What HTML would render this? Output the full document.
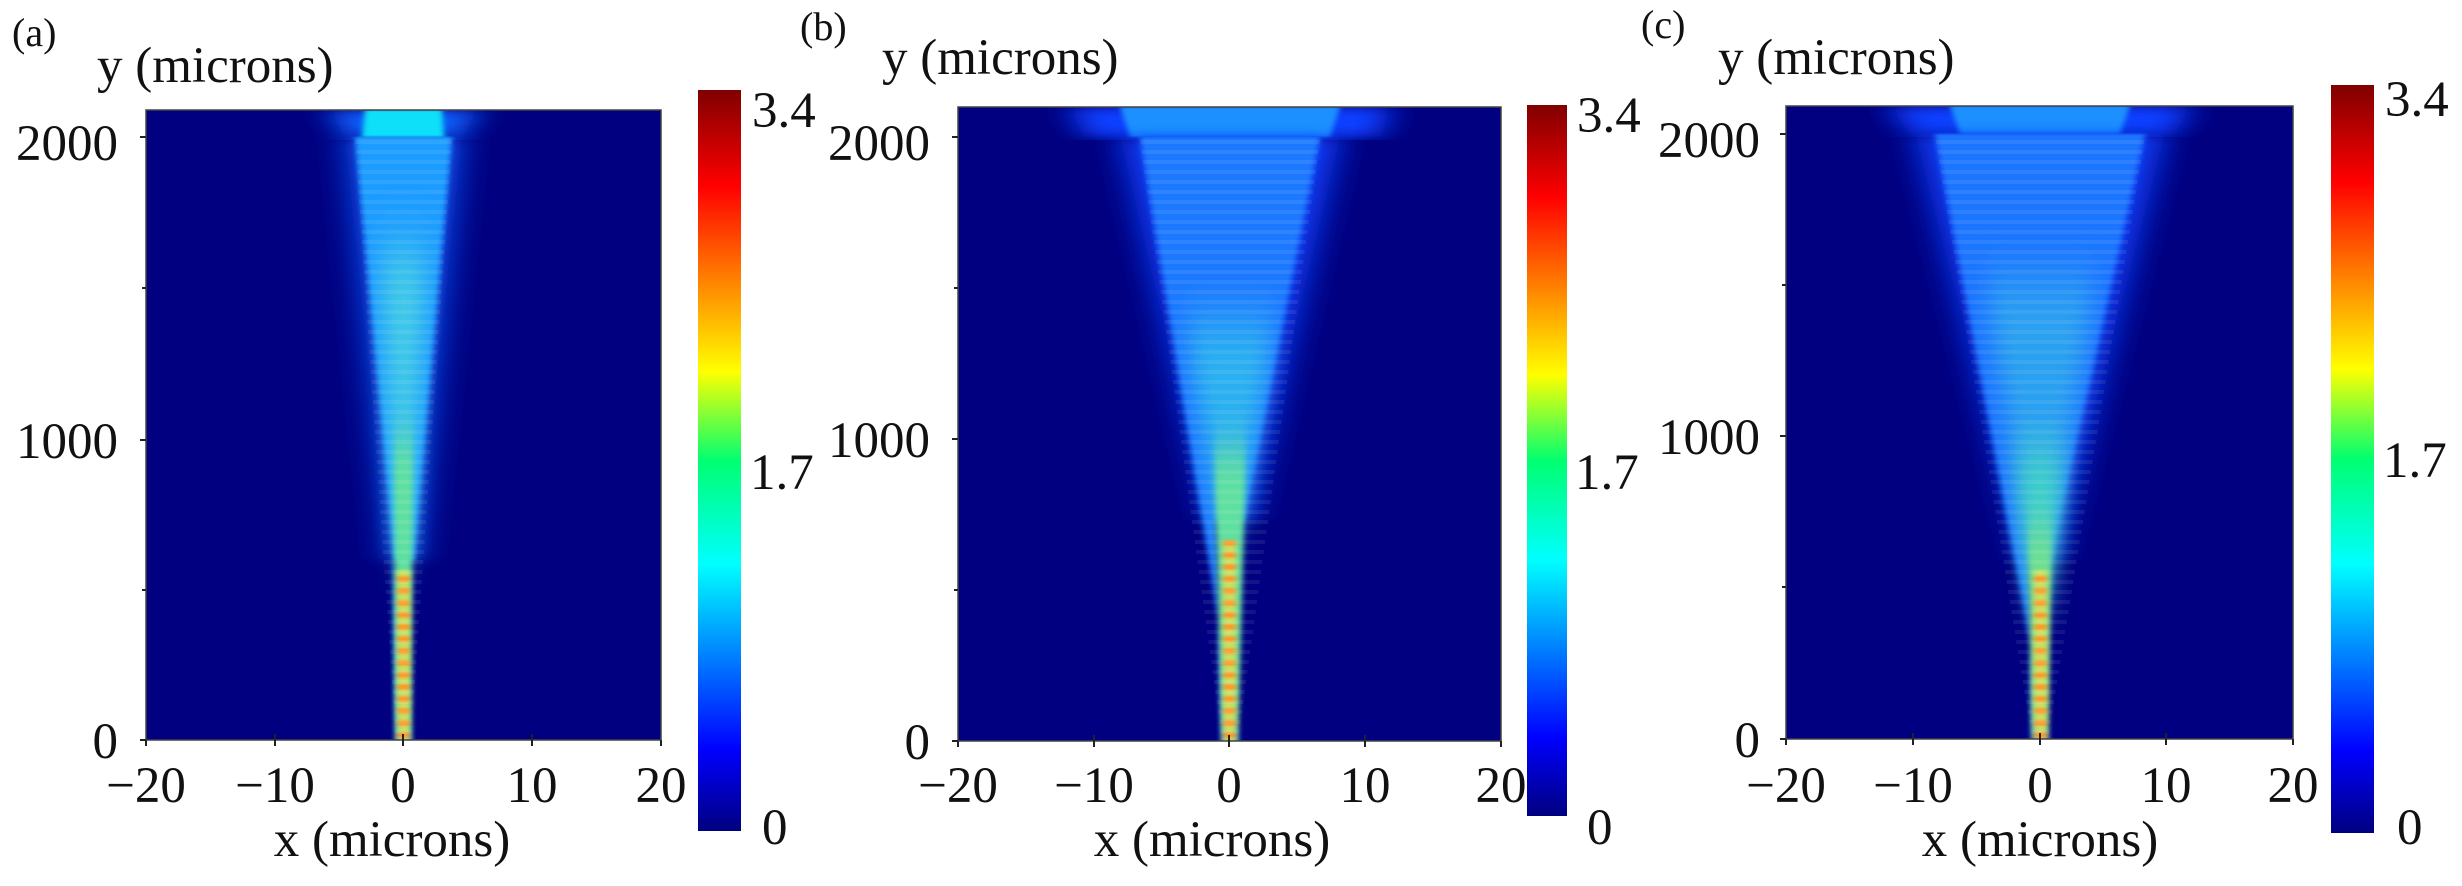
<!DOCTYPE html>
<html><head><meta charset="utf-8"><style>
html,body{margin:0;padding:0;background:#fff}
svg{display:block}
</style></head><body>
<svg width="2462" height="886" viewBox="0 0 2462 886" xmlns="http://www.w3.org/2000/svg" font-family="'Liberation Serif', 'DejaVu Serif', serif">
<defs>
<linearGradient id="jet" x1="0" y1="1" x2="0" y2="0">
<stop offset="0" stop-color="#000080"/>
<stop offset="0.11" stop-color="#0000ff"/>
<stop offset="0.36" stop-color="#00ffff"/>
<stop offset="0.5" stop-color="#00ff70"/>
<stop offset="0.62" stop-color="#ffff00"/>
<stop offset="0.87" stop-color="#ff0000"/>
<stop offset="1" stop-color="#800000"/>
</linearGradient>
<filter id="b1" x="-50%" y="-10%" width="200%" height="120%"><feGaussianBlur stdDeviation="16 6"/></filter>
<filter id="b2" x="-50%" y="-20%" width="200%" height="140%"><feGaussianBlur stdDeviation="10 25"/></filter>
<filter id="b3" x="-50%" y="-10%" width="200%" height="120%"><feGaussianBlur stdDeviation="3 1"/></filter>
<filter id="b4" x="-50%" y="-20%" width="200%" height="140%"><feGaussianBlur stdDeviation="3 20"/></filter>
<pattern id="stripe" width="10" height="10" patternUnits="userSpaceOnUse"><rect width="10" height="4" fill="#ffffff" opacity="0.08"/></pattern>
<pattern id="dots" width="10" height="12" patternUnits="userSpaceOnUse"><rect width="10" height="6" fill="#ff9a20"/><rect y="6" width="10" height="6" fill="#c8e060"/></pattern>
<clipPath id="ca"><rect x="146" y="110" width="515" height="630"/></clipPath>
<clipPath id="cb"><rect x="958" y="107" width="543" height="634"/></clipPath>
<clipPath id="cc"><rect x="1786" y="106" width="507" height="633"/></clipPath>
</defs>
<g fill="#111">
<!-- Panel A -->
<rect x="146" y="110" width="515" height="630" fill="#000080"/>
<g clip-path="url(#ca)">
<polygon points="330,110 478,110 462,137 345,137" fill="#1060ff" filter="url(#b1)"/>
<polygon points="345,137 462,137 418,560 389,560" fill="#0a50f0" filter="url(#b1)"/>
<polygon points="365,110 442,110 444,137 362,137" fill="#10e0f8" filter="url(#b3)"/>
<polygon points="355,137 452,137 414,560 393,560 396,740 411,740" fill="#1f9cff" filter="url(#b3)"/>
<polygon points="380,250 427,250 410,560 397,560" fill="#40c8e8" filter="url(#b2)"/>
<polygon points="394,440 413,440 411,740 396,740" fill="#5ee0a0" filter="url(#b4)"/>
<rect x="397" y="570" width="13" height="170" fill="url(#dots)" filter="url(#b3)"/>
<polygon points="355,140 452,140 411,740 396,740" fill="url(#stripe)"/>
</g>
<rect x="146" y="110" width="515" height="630" fill="none" stroke="#444" stroke-width="1.5"/>

<!-- Panel B -->
<rect x="958" y="107" width="543" height="634" fill="#000080"/>
<g clip-path="url(#cb)">
<polygon points="1070,107 1390,107 1380,137 1085,137" fill="#0c40ff" filter="url(#b1)"/>
<polygon points="1120,107 1340,107 1330,137 1130,137" fill="#1a90ff" filter="url(#b3)"/>
<polygon points="1120,137 1340,137 1250,520 1210,520" fill="#0b3ef8" filter="url(#b1)"/>
<polygon points="1140,137 1320,137 1244,520 1216,520 1222,741 1238,741" fill="#1a78ff" filter="url(#b3)"/>
<polygon points="1185,320 1275,320 1243,520 1217,520" fill="#2cb0f0" filter="url(#b2)"/>
<polygon points="1214,450 1246,450 1238,741 1222,741" fill="#60e0a0" filter="url(#b4)"/>
<rect x="1223" y="540" width="13" height="201" fill="url(#dots)" filter="url(#b3)"/>
<polygon points="1140,140 1320,140 1238,741 1222,741" fill="url(#stripe)"/>
</g>
<rect x="958" y="107" width="543" height="634" fill="none" stroke="#444" stroke-width="1.5"/>

<!-- Panel C -->
<rect x="1786" y="106" width="507" height="633" fill="#000080"/>
<g clip-path="url(#cc)">
<polygon points="1890,106 2190,106 2175,134 1910,134" fill="#0c40ff" filter="url(#b1)"/>
<polygon points="1950,106 2130,106 2120,134 1960,134" fill="#1a90ff" filter="url(#b3)"/>
<polygon points="1915,134 2165,134 2055,560 2025,560" fill="#0b3ef8" filter="url(#b1)"/>
<polygon points="1935,134 2145,134 2050,560 2030,560 2032,739 2048,739" fill="#1a74ff" filter="url(#b3)"/>
<polygon points="1985,280 2095,280 2050,560 2030,560" fill="#2aa0f0" filter="url(#b2)"/>
<polygon points="2015,450 2065,450 2050,600 2030,600" fill="#40d0c8" filter="url(#b2)"/>
<polygon points="2028,530 2052,530 2048,739 2032,739" fill="#70e090" filter="url(#b4)"/>
<rect x="2034" y="570" width="13" height="169" fill="url(#dots)" filter="url(#b3)"/>
<polygon points="1935,137 2145,137 2048,739 2032,739" fill="url(#stripe)"/>
</g>
<rect x="1786" y="106" width="507" height="633" fill="none" stroke="#444" stroke-width="1.5"/>

<!-- ticks -->
<g stroke="#222" stroke-width="2">
<line x1="140" y1="740" x2="146" y2="740"/><line x1="140" y1="440" x2="146" y2="440"/><line x1="140" y1="137" x2="146" y2="137"/>
<line x1="142" y1="590" x2="146" y2="590"/><line x1="142" y1="288" x2="146" y2="288"/>
<line x1="146" y1="740" x2="146" y2="746"/><line x1="275" y1="734" x2="275" y2="746"/><line x1="403" y1="734" x2="403" y2="746"/><line x1="532" y1="734" x2="532" y2="746"/><line x1="661" y1="740" x2="661" y2="746"/>
<line x1="952" y1="741" x2="958" y2="741"/><line x1="952" y1="439" x2="958" y2="439"/><line x1="952" y1="137" x2="958" y2="137"/>
<line x1="954" y1="590" x2="958" y2="590"/><line x1="954" y1="288" x2="958" y2="288"/>
<line x1="958" y1="741" x2="958" y2="747"/><line x1="1094" y1="735" x2="1094" y2="747"/><line x1="1229" y1="735" x2="1229" y2="747"/><line x1="1365" y1="735" x2="1365" y2="747"/><line x1="1501" y1="741" x2="1501" y2="747"/>
<line x1="1780" y1="739" x2="1786" y2="739"/><line x1="1780" y1="436" x2="1786" y2="436"/><line x1="1780" y1="134" x2="1786" y2="134"/>
<line x1="1782" y1="587" x2="1786" y2="587"/><line x1="1782" y1="285" x2="1786" y2="285"/>
<line x1="1786" y1="739" x2="1786" y2="745"/><line x1="1913" y1="733" x2="1913" y2="745"/><line x1="2040" y1="733" x2="2040" y2="745"/><line x1="2166" y1="733" x2="2166" y2="745"/><line x1="2293" y1="739" x2="2293" y2="745"/>
</g>

<!-- colorbars -->
<rect x="698" y="90" width="43" height="741" fill="url(#jet)"/>
<rect x="1527" y="105" width="40" height="711" fill="url(#jet)"/>
<rect x="2331" y="85" width="43" height="748" fill="url(#jet)"/>

<g font-size="51">
<!-- A -->
<text x="118" y="758" text-anchor="end">0</text>
<text x="118" y="458" text-anchor="end">1000</text>
<text x="118" y="160" text-anchor="end">2000</text>
<g text-anchor="middle">
<text x="146" y="802">−20</text><text x="275" y="802">−10</text><text x="403" y="802">0</text><text x="532" y="802">10</text><text x="661" y="802">20</text>
<text x="392" y="856">x (microns)</text>
</g>
<text x="97" y="82">y (microns)</text>
<text x="12" y="46" font-size="40">(a)</text>
<text x="752" y="127">3.4</text><text x="750" y="489">1.7</text><text x="762" y="844">0</text>
<!-- B -->
<text x="930" y="759" text-anchor="end">0</text>
<text x="930" y="457" text-anchor="end">1000</text>
<text x="930" y="160" text-anchor="end">2000</text>
<g text-anchor="middle">
<text x="958" y="802">−20</text><text x="1094" y="802">−10</text><text x="1229" y="802">0</text><text x="1365" y="802">10</text><text x="1501" y="802">20</text>
<text x="1212" y="856">x (microns)</text>
</g>
<text x="882" y="74">y (microns)</text>
<text x="800" y="40" font-size="40">(b)</text>
<text x="1577" y="132">3.4</text><text x="1575" y="489">1.7</text><text x="1587" y="844">0</text>
<!-- C -->
<text x="1760" y="757" text-anchor="end">0</text>
<text x="1760" y="454" text-anchor="end">1000</text>
<text x="1760" y="157" text-anchor="end">2000</text>
<g text-anchor="middle">
<text x="1786" y="802">−20</text><text x="1913" y="802">−10</text><text x="2040" y="802">0</text><text x="2166" y="802">10</text><text x="2293" y="802">20</text>
<text x="2040" y="856">x (microns)</text>
</g>
<text x="1718" y="74">y (microns)</text>
<text x="1641" y="38" font-size="40">(c)</text>
<text x="2385" y="116">3.4</text><text x="2383" y="477">1.7</text><text x="2397" y="844">0</text>
</g>
</g>
</svg>
</body></html>
